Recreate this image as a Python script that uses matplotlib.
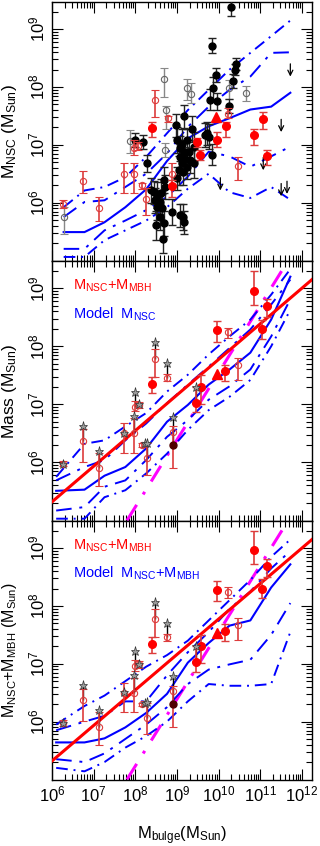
import numpy as np
import matplotlib.pyplot as plt
from matplotlib.ticker import LogLocator, NullFormatter

plt.rcParams['font.family'] = ['Liberation Sans', 'DejaVu Sans']
plt.rcParams['mathtext.fontset'] = 'custom'
plt.rcParams['mathtext.rm'] = 'Liberation Sans'
plt.rcParams['mathtext.it'] = 'Liberation Sans:italic'
plt.rcParams['mathtext.default'] = 'regular'

# ---------------- data (log10 solar masses) ----------------
# model bins in log M_bulge
lx_top = [6.28, 6.78, 7.26, 7.76, 8.26, 8.76, 9.26, 9.76, 10.26, 10.76, 11.26, 11.72]
lx_low = [6.10, 6.78, 7.26, 7.76, 8.26, 8.76, 9.26, 9.76, 10.26, 10.76, 11.26, 11.72]

# top panel: model M_NSC
top_med = [5.49, 5.49, 5.66, 5.92, 6.23, 6.72, 7.11, 7.32, 7.46, 7.61, 7.66, 7.90]
top_u2 = [5.92, 6.21, 6.27, 6.44, 6.79, 7.20, 7.60, 7.95, 8.30, 8.59, 8.88, 9.15]
top_u1 = [5.75, 6.01, 6.04, 6.27, 6.50, 6.85, 7.31, 7.66, 7.95, 8.18, 8.59, 8.60]
top_l1 = [5.20, 5.20, 5.52, 5.69, 5.87, 6.10, 6.45, 6.88, 6.80, 6.62, 6.80, 6.97]
top_l2 = [5.06, 5.06, 5.35, 5.52, 5.69, 5.92, 6.24, 6.50, 6.18, 6.08, 6.27, 6.05]

# middle panel: model M_NSC (nucleated)
mid_med = [5.51, 5.53, 5.77, 5.92, 6.24, 6.70, 6.99, 7.34, 7.60, 7.89, 8.46, 9.20]
mid_u2 = [5.75, 6.32, 6.38, 6.62, 6.85, 7.22, 7.51, 7.86, 8.17, 8.46, 8.89, 9.33]
mid_u1 = [5.69, 5.92, 6.04, 6.38, 6.67, 7.02, 7.34, 7.65, 7.97, 8.29, 8.72, 9.15]
mid_l1 = [5.17, 5.23, 5.58, 5.69, 6.04, 6.44, 6.73, 7.08, 7.31, 7.60, 8.17, 8.81]
mid_l2 = [5.03, 5.03, 5.40, 5.52, 5.81, 6.15, 6.56, 6.90, 7.13, 7.42, 8.00, 8.63]

# bottom panel: model M_NSC + M_MBH
bot_med = [5.64, 5.64, 5.71, 5.90, 6.15, 6.48, 7.02, 7.36, 7.66, 7.75, 8.32, 8.72]
bot_u2 = [5.95, 6.27, 6.45, 6.70, 6.95, 7.15, 7.40, 7.75, 8.10, 8.45, 8.85, 9.15]
bot_u1 = [5.85, 6.00, 6.10, 6.35, 6.35, 6.80, 7.20, 7.55, 7.95, 8.25, 8.65, 8.95]
bot_l1 = [5.35, 5.30, 5.45, 5.70, 5.95, 6.25, 6.65, 6.90, 6.99, 7.07, 7.50, 8.05]
bot_l2 = [5.20, 5.14, 5.30, 5.55, 5.75, 6.00, 6.35, 6.65, 6.62, 6.62, 6.65, 7.55]

# fits
fit_lx = [6.0, 12.24]
fit_ly = [5.32, 9.15]
mag_lx = [7.80, 11.66]
mag_ly = [5.00, 9.47]

# top panel observations
blk_lx = [10.30, 9.85, 10.42, 10.40, 9.93, 10.34, 9.86, 9.80, 9.96, 10.25, 9.17, 8.97, 9.37, 9.72, 9.76, 9.68,
          8.00, 8.18, 8.28, 9.00, 9.12, 9.25, 9.06, 9.16, 9.28, 9.40, 9.84, 9.08, 9.20, 9.32, 9.40, 9.12,
          9.24, 9.04, 9.14, 9.00, 8.68, 8.72, 8.37, 8.45, 8.52, 8.61, 8.48, 8.58, 8.53, 8.64, 8.88, 8.50,
          8.68, 9.08, 9.14, 9.16, 8.66, 8.60]
blk_ly = [9.38, 8.71, 8.40, 8.30, 8.21, 8.11, 7.98, 7.78, 7.75, 7.67, 7.49, 7.34, 7.27, 7.20, 7.14, 7.17,
          7.08, 7.05, 6.68, 7.08, 7.02, 7.08, 6.94, 6.88, 6.88, 6.97, 6.83, 6.79, 6.76, 6.73, 6.68, 6.68,
          6.62, 6.56, 6.53, 6.42, 6.39, 6.27, 6.21, 6.18, 6.13, 6.16, 6.04, 6.01, 5.92, 5.90, 5.84, 5.61,
          5.64, 5.78, 5.75, 5.66, 5.37, 5.75]
blk_err = [0.15, 0.13, 0.10, 0.10, 0.12, 0.12, 0.20, 0.18, 0.15, 0.12, 0.20, 0.20, 0.22, 0.20, 0.22, 0.20,
           0.12, 0.12, 0.15, 0.22, 0.25, 0.20, 0.22, 0.20, 0.20, 0.25, 0.18, 0.22, 0.20, 0.22, 0.25, 0.20,
           0.22, 0.25, 0.22, 0.20, 0.22, 0.20, 0.22, 0.20, 0.22, 0.25, 0.22, 0.20, 0.22, 0.25, 0.22, 0.25,
           0.22, 0.20, 0.22, 0.20, 0.25, 0.22]

gry_lx = [6.29, 7.88, 8.68, 8.73, 9.24, 9.33, 10.25, 10.66, 8.72]
gry_ly = [5.75, 7.06, 8.13, 7.60, 7.98, 7.88, 7.98, 7.89, 6.91]
gry_hi = [5.92, 7.25, 8.33, 7.67, 8.13, 8.07, 8.12, 8.01, 7.03]
gry_lo = [5.46, 6.85, 7.83, 7.28, 7.78, 7.72, 7.80, 7.75, 6.79]

ro_lx = [6.27, 6.74, 7.13, 7.73, 7.96, 7.97, 8.07, 8.16, 8.25, 8.48, 8.78, 8.89, 10.22, 10.46]
ro_ly = [5.97, 6.37, 5.90, 6.50, 6.50, 6.95, 6.98, 6.30, 6.07, 7.78, 7.46, 6.50, 7.54, 6.63]
ro_hi = [6.04, 6.55, 6.09, 6.68, 6.68, 7.08, 7.05, 6.34, 6.26, 7.95, 7.50, 6.68, 7.63, 6.79]
ro_lo = [5.90, 6.17, 5.69, 6.17, 6.17, 6.82, 6.91, 6.24, 5.78, 7.48, 7.40, 6.30, 7.46, 6.39]

rf_lx = [8.40, 8.89, 9.48, 9.56, 9.97, 10.17, 10.86, 11.06, 11.16]
rf_ly = [7.29, 6.29, 7.04, 6.82, 7.09, 7.32, 7.17, 7.44, 6.80]
rf_hi = [7.40, 6.39, 7.11, 6.91, 7.23, 7.40, 7.28, 7.56, 6.91]
rf_lo = [7.14, 6.10, 6.97, 6.73, 6.97, 7.14, 6.99, 7.27, 6.65]

tri_top = (9.94, 7.48)

lim_lx = [11.72, 11.50, 11.07, 10.04, 11.50, 11.64]
lim_ly = [8.40, 7.44, 6.78, 6.43, 6.33, 6.37]

# middle / bottom panel observations (NSC+MBH)
mo_lx = [6.26, 6.74, 7.14, 7.73, 7.96, 8.00, 8.10, 8.16, 8.28, 8.48, 8.77, 8.90, 10.22, 10.46]
mo_ly = [5.97, 6.37, 5.91, 6.50, 6.50, 6.96, 6.99, 6.30, 6.07, 7.78, 7.46, 6.53, 8.24, 7.67]
mo_hi = [6.02, 6.57, 6.17, 6.67, 6.76, 7.06, 7.04, 6.33, 6.33, 7.95, 7.52, 6.62, 8.32, 7.80]
mo_lo = [5.93, 6.01, 5.59, 6.17, 6.17, 6.88, 6.93, 6.27, 5.78, 7.47, 7.40, 5.90, 8.14, 7.42]

star_lx = [6.26, 6.74, 7.14, 7.73, 7.96, 8.00, 8.10, 8.24, 8.28, 8.48, 8.77, 8.90, 9.46]
star_ly = [5.97, 6.63, 6.20, 6.51, 6.80, 7.22, 7.00, 6.33, 6.34, 8.07, 7.71, 6.79, 7.30]
star_base = [5.97, 6.37, 5.91, 6.50, 6.50, 6.96, 6.99, 6.30, 6.07, 7.78, 7.46, 6.30, 7.03]

mf_lx = [8.40, 9.46, 9.58, 9.97, 10.16, 10.85, 11.05, 11.16]
mf_ly = [7.35, 7.03, 7.30, 8.28, 7.57, 8.96, 8.29, 8.69]
mf_hi = [7.47, 7.30, 7.50, 8.44, 7.68, 9.29, 8.46, 8.82]
mf_lo = [7.19, 6.86, 7.01, 8.08, 7.40, 8.72, 8.13, 8.51]

dark_pt = (8.90, 6.30)
tri_mid = (9.96, 7.53)

# ---------------- plotting ----------------
BLUE = '#0000ff'
RED = '#ff0000'
LRED = '#dd3c3c'
MAG = '#ff00ff'
ls_out = (0, (6, 3, 1, 3))
ls_in = (0, (8, 4, 1.5, 4))


def p(a):
    return 10 ** np.asarray(a, dtype=float)


def style(ax, xlabels=False):
    ax.set_xscale('log')
    ax.set_yscale('log')
    ax.set_xlim(1e6, 10 ** 12.24)
    ax.set_ylim(10 ** 4.99, 10 ** 9.47)
    ax.set_xticks([1e6, 1e7, 1e8, 1e9, 1e10, 1e11, 1e12])
    ax.xaxis.set_minor_locator(LogLocator(base=10, subs=np.arange(2, 10), numticks=20))
    ax.set_yticks([1e6, 1e7, 1e8, 1e9])
    ax.yaxis.set_minor_locator(LogLocator(base=10, subs=np.arange(2, 10), numticks=20))
    ax.yaxis.set_minor_formatter(NullFormatter())
    ax.xaxis.set_minor_formatter(NullFormatter())
    ax.tick_params(which='both', direction='in', top=True, right=True, width=0.8)
    ax.tick_params(which='major', length=8, labelsize=12)
    ax.tick_params(which='minor', length=4)
    ax.tick_params(axis='y', labelrotation=90)
    for t in ax.get_yticklabels():
        t.set_va('center')
    if not xlabels:
        ax.tick_params(axis='x', labelbottom=False)
    for s in ax.spines.values():
        s.set_linewidth(1.0)
    ax.yaxis.set_label_coords(-0.125, 0.5)


def model(ax, lx, med, u2, u1, l1, l2):
    x = p(lx)
    ax.plot(x, p(med), color=BLUE, lw=1.5, zorder=3)
    for yy, ls in [(u2, ls_out), (u1, ls_in), (l1, ls_in), (l2, ls_out)]:
        ax.plot(x, p(yy), color=BLUE, lw=1.4, ls=ls, zorder=3)


def obs_nsc_mbh(ax):
    ax.plot(p(fit_lx), p(fit_ly), color=RED, lw=2.2, zorder=4)
    ax.plot(p(mag_lx), p(mag_ly), color=MAG, lw=2.2, ls=(0, (6, 4, 1, 4)), zorder=2)
    ax.vlines(p(star_lx), p(star_base), p(star_ly), color='black', lw=1.0, zorder=5)
    ax.errorbar(p(mo_lx), p(mo_ly),
                yerr=[p(mo_ly) - p(mo_lo), p(mo_hi) - p(mo_ly)],
                fmt='o', ms=4.5, mfc='none', mec=LRED, mew=0.8, ecolor=LRED,
                elinewidth=1.2, capsize=3, zorder=6)
    ax.errorbar(p(mf_lx), p(mf_ly),
                yerr=[p(mf_ly) - p(mf_lo), p(mf_hi) - p(mf_ly)],
                fmt='o', ms=5.5, mfc=RED, mec=RED, ecolor=LRED,
                elinewidth=1.2, capsize=3, zorder=6)
    ax.plot(10 ** dark_pt[0], 10 ** dark_pt[1], 'o', ms=5, color='#500000', zorder=7)
    ax.plot(10 ** tri_mid[0], 10 ** tri_mid[1], '^', ms=7.5, color=RED, zorder=7)
    ax.plot(p(star_lx), p(star_ly), '*', ms=6.5, mfc='#9a9a9a', mec='#333333', mew=0.5, zorder=8)


fig = plt.figure(figsize=(3.2, 8.46), dpi=100)
L, W = 52 / 320, 260 / 320
ax1 = fig.add_axes([L, 1 - 261 / 846, W, 259 / 846])
ax2 = fig.add_axes([L, 1 - 521 / 846, W, 260 / 846])
ax3 = fig.add_axes([L, 1 - 780 / 846, W, 259 / 846])

# top panel
model(ax1, lx_top, top_med, top_u2, top_u1, top_l1, top_l2)
ax1.errorbar(p(blk_lx), p(blk_ly),
             yerr=[p(blk_ly) - p(np.subtract(blk_ly, blk_err)), p(np.add(blk_ly, blk_err)) - p(blk_ly)],
             fmt='o', ms=5, color='black', ecolor='#222222', elinewidth=1.0, capsize=3, zorder=5)
ax1.errorbar(p(gry_lx), p(gry_ly),
             yerr=[p(gry_ly) - p(gry_lo), p(gry_hi) - p(gry_ly)],
             fmt='o', ms=4.5, mfc='none', mec='#666666', mew=0.8, ecolor='#888888',
             elinewidth=1.0, capsize=3, zorder=4)
ax1.errorbar(p(ro_lx), p(ro_ly),
             yerr=[p(ro_ly) - p(ro_lo), p(ro_hi) - p(ro_ly)],
             fmt='o', ms=4.5, mfc='none', mec=LRED, mew=0.8, ecolor=LRED,
             elinewidth=1.2, capsize=3, zorder=6)
ax1.errorbar(p(rf_lx), p(rf_ly),
             yerr=[p(rf_ly) - p(rf_lo), p(rf_hi) - p(rf_ly)],
             fmt='o', ms=5.5, mfc=RED, mec=RED, ecolor=LRED,
             elinewidth=1.2, capsize=3, zorder=6)
ax1.plot(10 ** tri_top[0], 10 ** tri_top[1], '^', ms=6.5, color=RED, zorder=7)
for lx, ly in zip(lim_lx, lim_ly):
    ax1.annotate('', xy=(10 ** lx, 10 ** (ly - 0.22)), xytext=(10 ** lx, 10 ** ly),
                 arrowprops=dict(arrowstyle='->', color='black', lw=0.9,
                                 shrinkA=0, shrinkB=0, mutation_scale=9))
ax1.set_ylabel(r'M$_{NSC}$ (M$_{Sun}$)', fontsize=12.5)
style(ax1)

# middle panel
model(ax2, lx_low, mid_med, mid_u2, mid_u1, mid_l1, mid_l2)
obs_nsc_mbh(ax2)
ax2.text(0.08, 0.89, r'M$_{NSC}$+M$_{MBH}$', color=RED, fontsize=10.5, transform=ax2.transAxes)
ax2.text(0.08, 0.78, r'Model  M$_{NSC}$', color=BLUE, fontsize=10.5, transform=ax2.transAxes)
ax2.set_ylabel(r'Mass (M$_{Sun}$)', fontsize=12.5)
style(ax2)

# bottom panel
model(ax3, lx_low, bot_med, bot_u2, bot_u1, bot_l1, bot_l2)
obs_nsc_mbh(ax3)
ax3.text(0.08, 0.89, r'M$_{NSC}$+M$_{MBH}$', color=RED, fontsize=10.5, transform=ax3.transAxes)
ax3.text(0.08, 0.78, r'Model  M$_{NSC}$+M$_{MBH}$', color=BLUE, fontsize=10.5, transform=ax3.transAxes)
ax3.set_ylabel(r'M$_{NSC}$+M$_{MBH}$ (M$_{Sun}$)', fontsize=11.5)
ax3.set_xlabel(r'M$_{bulge}$(M$_{Sun}$)', fontsize=12, labelpad=14)
style(ax3, xlabels=True)

fig.savefig('out.png', dpi=100)
